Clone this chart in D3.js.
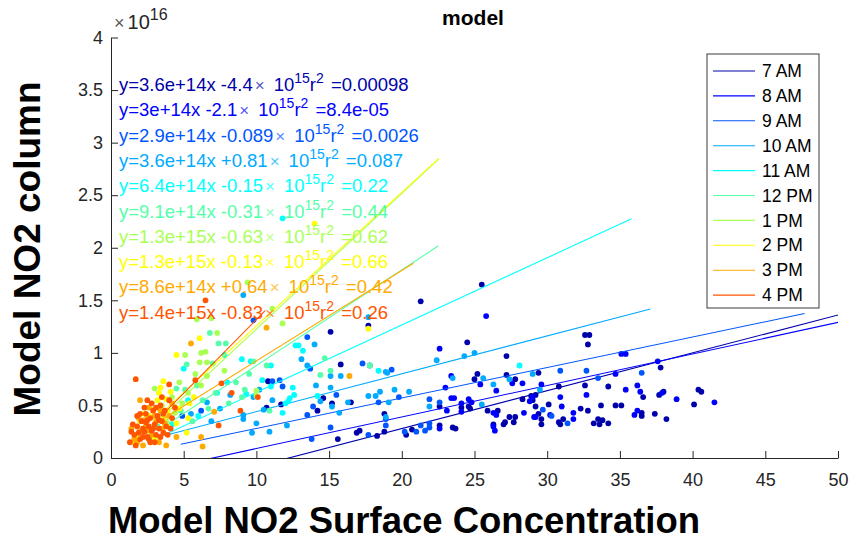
<!DOCTYPE html>
<html><head><meta charset="utf-8">
<script src="https://cdn.jsdelivr.net/npm/d3@7"></script>
<style>
body{margin:0;background:#fff;}
text{font-family:"Liberation Sans",Arial,sans-serif;}
</style></head>
<body><svg id="c" width="850" height="542"></svg>
<script>
// ---------- data ----------
const hours = ["7 AM","8 AM","9 AM","10 AM","11 AM","12 PM","1 PM","2 PM","3 PM","4 PM"];
const slopeLabels = ["3.6e+14","3e+14","2.9e+14","3.6e+14","6.4e+14","9.1e+14","1.3e+15","1.3e+15","8.6e+14","1.4e+15"];
const interceptLabels = ["-4.4","-2.1","-0.089","+0.81","-0.15","-0.31","-0.63","-0.13","+0.64","-0.83"];
const r2Labels = ["0.00098","8.4e-05","0.0026","0.087","0.22","0.44","0.62","0.66","0.42","0.26"];
// fitted lines (labels above are rounded)
const slopes = [3.6e14,3e14,2.9e14,3.6e14,6.4e14,9.1e14,1.29e15,1.27e15,8.6e14,1.4e15];
const intercepts = [-4.4e15,-2.1e15,-0.089e15,0.81e15,-0.15e15,-0.31e15,-0.63e15,-0.13e15,0.64e15,-0.83e15];
const fitStart = [5,5,4.8,3.9,2.8,3.9,3.6,3.6,3.4,3.8];
const fitEnd = [60,60,47.7,37.1,35.8,22.5,22.55,22.55,20.8,10.6];
const xTicks = [0,5,10,15,20,25,30,35,40,45,50];
const yTicks = [0,0.5,1,1.5,2,2.5,3,3.5,4];

// scatter values: [surface concentration, column / 1e16]
const pts7am = [[32.6,1.17],[32.9,1.17],[32.8,1.08],[37.8,0.86],[29.4,0.81],[30.8,0.68],[32.6,0.69],[34.2,0.68],[36.6,0.58],[37.7,0.60],[38.0,0.63],[40.4,0.65],[40.6,0.63],[40.1,0.51],[29.2,0.60],[30.1,0.51],[32.3,0.47],[33.7,0.50],[34.7,0.50],[35.1,0.50],[29.2,0.49],[32.8,0.45],[29.4,0.42],[31.1,0.37],[30.8,0.34],[29.6,0.37],[29.6,0.32],[30.9,0.32],[33.2,0.33],[33.5,0.37],[33.8,0.36],[33.6,0.32],[34.2,0.33],[36.5,0.40],[36.5,0.43],[37.4,0.42],[38.2,0.37],[25.5,1.65],[21.3,1.49],[24.5,1.10],[27.2,0.97],[25.2,0.80],[25.0,0.75],[27.2,0.79],[27.8,0.75],[22.6,0.49],[24.1,0.48],[24.6,0.49],[24.7,0.47],[25.9,0.45],[26.6,0.45],[28.3,0.56],[28.9,0.59],[29.0,0.55],[27.4,0.39],[27.8,0.39],[27.7,0.34],[27.1,0.34],[27.0,0.32],[26.3,0.32],[22.6,0.31],[23.5,0.29],[23.7,0.28],[20.7,0.27],[20.3,0.22],[17.7,1.26],[15.1,1.20],[15.8,0.89],[10.8,0.73],[11.7,0.51],[10.7,0.48],[14.6,0.57],[14.2,0.45],[15.2,0.52],[16.5,0.53],[15.6,0.18],[16.9,0.24],[17.1,0.26],[18.3,0.21],[18.8,0.25],[18.8,0.42]];
const pts8am = [[35.1,0.99],[35.4,0.99],[37.6,0.92],[34.7,0.80],[29.6,0.70],[35.4,0.65],[36.2,0.69],[36.4,0.63],[37.9,0.62],[38.9,0.56],[41.5,0.53],[29.0,0.58],[28.8,0.54],[30.9,0.58],[32.7,0.60],[31.0,0.49],[31.8,0.43],[29.2,0.39],[30.2,0.41],[31.8,0.37],[36.0,0.41],[36.2,0.45],[25.8,1.35],[22.6,1.04],[23.4,0.78],[25.4,0.70],[27.6,0.71],[28.3,0.71],[26.5,0.64],[23.0,0.67],[23.4,0.57],[23.6,0.57],[24.6,0.56],[24.1,0.52],[24.8,0.53],[23.1,0.45],[24.1,0.44],[26.3,0.43],[26.5,0.41],[28.4,0.43],[29.1,0.39],[26.3,0.30],[26.4,0.26],[22.6,0.28]];
const pts9am = [[30.9,0.83],[32.7,0.83],[36.5,0.81],[33.5,0.76],[29.7,0.46],[30.3,0.40],[31.4,0.33],[19.3,0.84],[19.8,0.58],[21.9,0.56],[22.6,0.53],[18.9,0.31],[21.3,0.31],[21.0,0.25],[21.6,0.26],[20.2,0.25],[21.9,0.33],[21.9,0.29],[9.8,1.31],[13.5,1.15],[13.7,0.85],[17.3,0.90],[17.8,0.88],[11.1,0.73],[11.6,0.74],[11.8,0.68],[13.9,0.49],[15.5,0.60],[18.4,0.53],[15.1,0.29],[13.5,0.41],[13.8,0.18],[17.7,0.22],[18.9,0.37],[4.9,0.40],[6.2,0.45]];
const pts10am = [[29.0,0.80],[29.5,0.65],[22.4,0.93],[25.0,1.00],[24.3,0.97],[19.0,0.81],[23.5,0.76],[25.6,0.76],[27.4,0.75],[26.3,0.70],[19.5,0.65],[20.5,0.63],[19.1,0.53],[25.5,0.51],[21.9,0.49],[18.9,0.39],[9.1,1.55],[17.7,1.34],[14.0,1.08],[13.1,0.94],[13.5,0.88],[15.1,0.78],[15.8,0.78],[18.9,0.82],[10.2,0.65],[9.8,0.58],[11.1,0.55],[10.5,0.46],[14.1,0.69],[14.4,0.54],[15.1,0.67],[15.2,0.49],[16.3,0.53],[17.7,0.59],[18.2,0.59],[18.5,0.63],[15.7,0.43],[12.1,0.31],[10.9,0.25],[9.7,0.24],[10.0,0.33],[9.1,0.37],[9.1,0.41],[4.0,0.30],[5.5,0.42],[6.6,0.53],[7.5,0.47],[8.2,0.60],[6.9,0.35]];
const pts11am = [[28.1,0.88],[12.7,1.07],[12.9,1.07],[13.2,1.02],[11.0,0.88],[9.6,0.92],[9.0,0.94],[10.4,0.74],[11.0,0.68],[12.5,0.67],[9.3,0.61],[12.3,0.57],[12.2,0.54],[11.8,0.43],[14.2,0.59],[18.4,0.83],[11.8,2.28],[2.8,0.17],[4.2,0.32],[5.3,0.55],[6.0,0.40],[7.3,0.62],[8.0,0.72],[5.0,0.85],[7.8,0.98],[12.0,0.52],[12.6,0.60]];
const pts12pm = [[14.4,0.79],[15.1,0.83],[10.7,0.88],[9.8,0.92],[9.2,0.65],[10.9,0.45],[14.7,0.95],[6.8,1.19],[7.4,1.09],[7.9,1.09],[7.0,0.90],[5.2,0.89],[5.9,0.69],[4.5,0.66],[5.1,0.65],[3.5,0.42],[4.0,0.55],[4.8,0.45],[6.3,0.55],[7.2,0.62],[8.6,0.72],[9.5,0.80],[3.2,0.30],[5.6,0.35],[17.8,0.88],[6.7,0.47],[8.1,0.52],[9.0,0.58]];
const pts1pm = [[11.8,1.28],[10.0,0.64],[10.0,0.59],[6.5,1.01],[6.2,1.00],[5.1,0.98],[6.6,0.91],[6.1,0.91],[4.7,0.72],[6.2,0.69],[5.3,0.62],[3.0,0.66],[9.4,1.67],[11.1,1.42],[6.9,1.33],[5.9,1.32],[7.3,1.19],[3.5,0.50],[4.2,0.58],[2.6,0.40],[4.4,0.43],[5.8,0.80],[4.9,0.52],[6.6,0.78],[7.8,0.83],[3.8,0.35]];
const pts2pm = [[6.1,1.14],[4.5,0.98],[3.6,0.73],[3.4,0.67],[17.7,1.23],[14.0,2.23],[2.3,0.42],[3.8,0.56],[2.6,0.40],[3.2,0.55],[3.9,0.45],[4.5,0.33],[5.2,0.24],[2.2,0.28],[3.0,0.18],[4.1,0.63],[1.8,0.20],[5.4,0.52],[3.6,0.38],[2.9,0.46],[1.5,0.15],[5.3,0.38],[2.4,0.34],[3.3,0.62],[4.7,0.47],[2.0,0.35],[3.9,0.30],[5.7,0.58]];
const pts3pm = [[10.7,1.24],[16.4,0.78],[5.5,1.09],[6.3,0.11],[6.2,0.20],[3.8,0.12],[1.6,0.18],[2.0,0.25],[2.4,0.30],[2.8,0.22],[3.1,0.35],[3.5,0.28],[1.9,0.38],[2.6,0.48],[3.3,0.15],[4.0,0.40],[2.2,0.12],[4.5,0.20],[7.1,0.44],[2.0,0.55],[1.8,0.15],[2.5,0.26],[3.0,0.40],[3.7,0.33],[2.3,0.36],[4.2,0.52],[1.4,0.28],[3.4,0.45]];
const pts4pm = [[6.5,1.50],[1.7,0.75],[4.0,0.70],[5.8,0.74],[8.9,0.45],[10.1,0.58],[7.6,0.71],[8.3,0.62],[7.4,0.31],[1.3,0.15],[1.6,0.22],[1.8,0.30],[2.0,0.18],[2.1,0.35],[2.3,0.25],[2.4,0.42],[2.5,0.20],[2.6,0.30],[2.7,0.38],[2.8,0.26],[2.9,0.45],[3.0,0.32],[3.1,0.22],[3.2,0.40],[3.3,0.28],[3.4,0.50],[3.5,0.35],[3.6,0.24],[3.7,0.45],[3.8,0.30],[4.0,0.55],[4.2,0.38],[1.9,0.24],[2.2,0.28],[2.6,0.18],[3.0,0.15],[2.4,0.34],[3.5,0.58],[4.4,0.48],[1.5,0.32],[2.8,0.52],[1.4,0.25],[1.7,0.12],[2.0,0.42],[2.2,0.20],[2.5,0.36],[2.7,0.15],[2.9,0.28],[3.1,0.48],[3.3,0.36],[3.6,0.42],[3.9,0.22],[2.3,0.48],[1.8,0.40],[3.4,0.20],[2.5,0.55],[4.1,0.28]];
const series = [pts7am,pts8am,pts9am,pts10am,pts11am,pts12pm,pts1pm,pts2pm,pts3pm,pts4pm];

// ---------- style ----------
const palette = ["rgb(0,0,170)","rgb(0,0,255)","rgb(0,85,255)","rgb(0,170,255)","rgb(0,255,255)",
                 "rgb(85,255,170)","rgb(170,255,85)","rgb(255,255,0)","rgb(255,170,0)","rgb(255,85,0)"];
const axisColor = "#262626";

const svg = d3.select("#c");
const x = d3.scaleLinear().domain([0,50]).range([111,838]);
const y = d3.scaleLinear().domain([0,4]).range([458,37.5]);

svg.append("defs").append("clipPath").attr("id","plotclip")
  .append("rect").attr("x",x(0)).attr("y",y(4)).attr("width",x(50)-x(0)).attr("height",y(0)-y(4));

const plot = svg.append("g").attr("clip-path","url(#plotclip)");
series.forEach((pts,i)=>{
  plot.append("g").selectAll("circle").data(pts).join("circle")
    .attr("cx",d=>x(d[0])).attr("cy",d=>y(d[1])).attr("r",2.9)
    .attr("fill",palette[i]);
  const line = d3.line().x(d=>x(d)).y(d=>y((slopes[i]*d+intercepts[i])/1e16));
  plot.append("path").datum([fitStart[i],fitEnd[i]]).attr("d",line)
    .attr("fill","none").attr("stroke",palette[i]).attr("stroke-width",1.1);
});

// axes
const xAxis = d3.axisBottom(x).tickValues(xTicks).tickFormat(d3.format("d")).tickSizeInner(-7).tickSizeOuter(0).tickPadding(15);
const gx = svg.append("g").attr("transform",`translate(0,${y(0)})`).call(xAxis);
const yAxis = d3.axisLeft(y).tickValues(yTicks).tickFormat(d=>String(d)).tickSizeInner(-7).tickSizeOuter(0).tickPadding(8);
const gy = svg.append("g").attr("transform",`translate(${x(0)},0)`).call(yAxis);
[gx,gy].forEach(g=>{
  g.selectAll("path,line").attr("stroke",axisColor).attr("stroke-width",1);
  g.selectAll("text").attr("fill",axisColor).style("font-size","18px").style("font-family","'Liberation Sans',Arial,sans-serif");
});

// exponent label
const ex = svg.append("text").attr("x",114).attr("y",29).attr("fill",axisColor).attr("font-size",20);
ex.append("tspan").text("×").attr("font-size",18).attr("fill-opacity",0.8);
ex.append("tspan").text("10").attr("dx",3);
ex.append("tspan").text("16").attr("dy",-9).attr("font-size",16);

// title
svg.append("text").attr("x",473).attr("y",25).attr("text-anchor","middle")
  .style("font-weight","bold").style("font-size","21px").attr("fill","#000").text("model");

// axis titles
svg.append("text").attr("x",404).attr("y",532.5).attr("text-anchor","middle")
  .style("font-weight","bold").style("font-size","36.5px").attr("fill","#000").text("Model NO2 Surface Concentration");
svg.append("text").attr("transform","translate(40,249) rotate(-90)").attr("text-anchor","middle")
  .style("font-weight","bold").style("font-size","37px").attr("fill","#000").text("Model NO2 column");

// equations
hours.forEach((h,i)=>{
  const t = svg.append("text").attr("x",119).attr("y",91+i*25.3).attr("fill",palette[i]).style("font-size","18.5px");
  t.append("tspan").text(`y=${slopeLabels[i]}x ${interceptLabels[i]}`);
  t.append("tspan").text("×").attr("dx",2).style("font-size","17px").attr("fill-opacity",0.7);
  t.append("tspan").text("10").attr("dx",9);
  t.append("tspan").text("15").attr("dy",-8).style("font-size","14px");
  t.append("tspan").text("r").attr("dy",8);
  t.append("tspan").text("2").attr("dy",-8).style("font-size","14px");
  t.append("tspan").text(` =${r2Labels[i]}`).attr("dy",8).attr("dx",2);
});

// legend
const lg = svg.append("g");
lg.append("rect").attr("x",707).attr("y",54).attr("width",112).attr("height",254)
  .attr("fill","#fff").attr("stroke",axisColor).attr("stroke-width",0.9);
hours.forEach((h,i)=>{
  const yy = 71+i*24.9;
  lg.append("line").attr("x1",713).attr("x2",755).attr("y1",yy).attr("y2",yy).attr("stroke",palette[i]).attr("stroke-width",1.1);
  lg.append("text").attr("x",762).attr("y",yy).attr("dy","0.35em").attr("fill","#000").style("font-size","17.5px").text(h);
});
</script></body></html>
